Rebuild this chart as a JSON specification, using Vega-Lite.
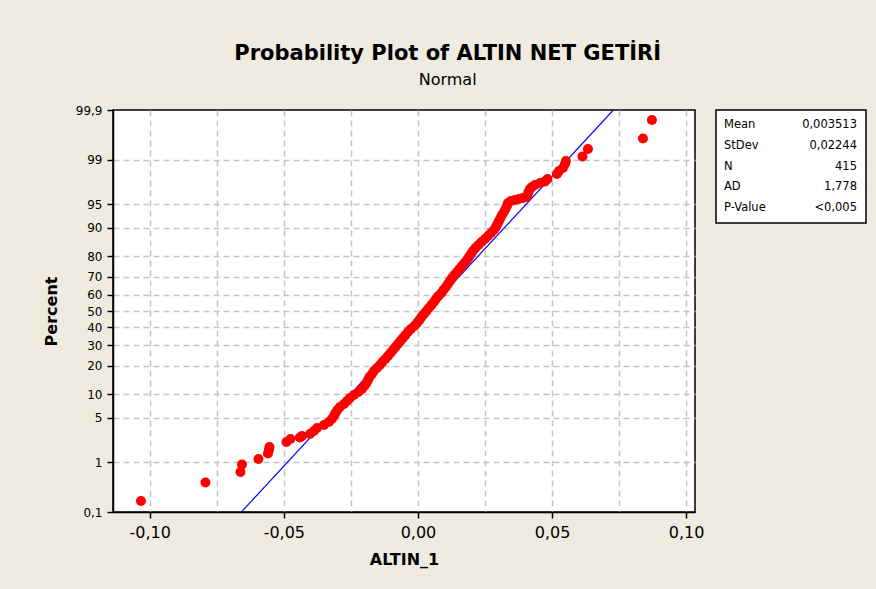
{
  "$schema": "https://vega.github.io/schema/vega-lite/v6.json",
  "background": "#efebe1",
  "padding": {"left": 42, "top": 43, "right": 12, "bottom": 24},
  "title": {
    "text": "Probability Plot of ALTIN NET GETİRİ",
    "subtitle": "Normal",
    "anchor": "middle",
    "dx": -7,
    "font": "DejaVu Sans",
    "fontSize": 21,
    "fontWeight": "bold",
    "color": "black",
    "subtitleFont": "DejaVu Sans",
    "subtitleFontSize": 16,
    "subtitleColor": "black",
    "subtitlePadding": 8,
    "offset": 15
  },
  "spacing": 21,
  "bounds": "flush",
  "config": {
    "locale": {"number": {"decimal": ",", "thousands": ".", "grouping": [3], "currency": ["", ""], "minus": "-"}},
    "view": {"fill": "white", "stroke": "black", "strokeWidth": 1.5},
    "axis": {
      "labelFont": "DejaVu Sans",
      "labelColor": "black",
      "labelOverlap": false,
      "titleFont": "DejaVu Sans",
      "titleColor": "black",
      "titleFontWeight": "bold",
      "titleFontSize": 16,
      "domainColor": "black",
      "domainWidth": 1.5,
      "tickColor": "black",
      "tickWidth": 1.5,
      "gridColor": "#c4c4c4",
      "gridDash": [6, 4],
      "gridWidth": 1.5
    }
  },
  "hconcat": [
    {
      "width": 582,
      "height": 402,
      "layer": [
        {
          "data": {"values": [{"x": -0.065831, "z": -3.0902}, {"x": 0.072857, "z": 3.0902}]},
          "mark": {"type": "line", "color": "#0000ff", "strokeWidth": 1.2, "clip": true},
          "encoding": {
            "x": {
              "field": "x", "type": "quantitative",
              "scale": {"domain": [-0.1137, 0.1033], "nice": false, "zero": false},
              "axis": {
                "title": "ALTIN_1",
                "values": [-0.1, -0.075, -0.05, -0.025, 0, 0.025, 0.05, 0.075, 0.1],
                "tickCount": 20,
                "format": ".2f",
                "labelExpr": "abs(datum.value*20 - round(datum.value*20)) > 0.1 ? '' : datum.label",
                "labelFontSize": 16,
                "labelPadding": 6,
                "tickSize": 6,
                "tickOpacity": {"condition": {"test": "abs(datum.value*20 - round(datum.value*20)) > 0.1", "value": 0}, "value": 1},
                "titlePadding": 11,
                "grid": true
              }
            },
            "y": {
              "field": "z", "type": "quantitative",
              "scale": {"domain": [-3.0902, 3.0902], "nice": false, "zero": false},
              "axis": {
                "title": "Percent",
                "values": [-3.0902, -2.3263, -1.6449, -1.2816, -0.8416, -0.5244, -0.2533, 0, 0.2533, 0.5244, 0.8416, 1.2816, 1.6449, 2.3263, 3.0902],
                "tickCount": 30,
                "labelExpr": "datum.value < -3 ? '0,1' : datum.value < -2 ? '1' : datum.value < -1.5 ? '5' : datum.value < -1 ? '10' : datum.value < -0.7 ? '20' : datum.value < -0.4 ? '30' : datum.value < -0.1 ? '40' : datum.value < 0.1 ? '50' : datum.value < 0.4 ? '60' : datum.value < 0.7 ? '70' : datum.value < 1 ? '80' : datum.value < 1.5 ? '90' : datum.value < 2 ? '95' : datum.value < 3 ? '99' : '99,9'",
                "labelFontSize": 12,
                "labelPadding": 5,
                "tickSize": 6,
                "titlePadding": 16,
                "grid": true,
                "gridOpacity": {"condition": {"test": "abs(datum.value) > 3", "value": 0}, "value": 1}
              }
            }
          }
        },
        {
          "data": {"values": [
            {"x": -0.10328, "z": -2.9213},
            {"x": -0.07923, "z": -2.6368},
            {"x": -0.06618, "z": -2.4754},
            {"x": -0.06562, "z": -2.3601},
            {"x": -0.05947, "z": -2.2755},
            {"x": -0.05593, "z": -2.1909},
            {"x": -0.05556, "z": -2.1371},
            {"x": -0.05537, "z": -2.0910},
            {"x": -0.04903, "z": -2.0141},
            {"x": -0.04754, "z": -1.9680},
            {"x": -0.04400, "z": -1.9449},
            {"x": -0.04325, "z": -1.9219},
            {"x": -0.04027, "z": -1.8911},
            {"x": -0.03878, "z": -1.8450},
            {"x": -0.03766, "z": -1.7989},
            {"x": -0.03505, "z": -1.7528},
            {"x": -0.03318, "z": -1.7066},
            {"x": -0.03207, "z": -1.6605},
            {"x": -0.03132, "z": -1.6144},
            {"x": -0.03076, "z": -1.5683},
            {"x": -0.03002, "z": -1.5221},
            {"x": -0.02908, "z": -1.4760},
            {"x": -0.02759, "z": -1.4299},
            {"x": -0.02647, "z": -1.3838},
            {"x": -0.02535, "z": -1.3376},
            {"x": -0.02386, "z": -1.2915},
            {"x": -0.02219, "z": -1.2454},
            {"x": -0.02088, "z": -1.1993},
            {"x": -0.01995, "z": -1.1531},
            {"x": -0.01920, "z": -1.1070},
            {"x": -0.01864, "z": -1.0609},
            {"x": -0.01808, "z": -1.0148},
            {"x": -0.01715, "z": -0.9686},
            {"x": -0.01641, "z": -0.9225},
            {"x": -0.01529, "z": -0.8764},
            {"x": -0.01417, "z": -0.8303},
            {"x": -0.01324, "z": -0.7841},
            {"x": -0.01212, "z": -0.7380},
            {"x": -0.01119, "z": -0.6919},
            {"x": -0.01025, "z": -0.6458},
            {"x": -0.00932, "z": -0.5996},
            {"x": -0.00839, "z": -0.5535},
            {"x": -0.00746, "z": -0.5074},
            {"x": -0.00653, "z": -0.4613},
            {"x": -0.00559, "z": -0.4151},
            {"x": -0.00466, "z": -0.3690},
            {"x": -0.00373, "z": -0.3229},
            {"x": -0.00261, "z": -0.2768},
            {"x": -0.00131, "z": -0.2306},
            {"x": -0.00037, "z": -0.1845},
            {"x": 0.00056, "z": -0.1384},
            {"x": 0.00131, "z": -0.0923},
            {"x": 0.00224, "z": -0.0461},
            {"x": 0.00317, "z": 0.0},
            {"x": 0.00410, "z": 0.0461},
            {"x": 0.00503, "z": 0.0923},
            {"x": 0.00597, "z": 0.1384},
            {"x": 0.00671, "z": 0.1845},
            {"x": 0.00764, "z": 0.2306},
            {"x": 0.00876, "z": 0.2768},
            {"x": 0.00951, "z": 0.3229},
            {"x": 0.01044, "z": 0.3690},
            {"x": 0.01119, "z": 0.4151},
            {"x": 0.01193, "z": 0.4613},
            {"x": 0.01268, "z": 0.5074},
            {"x": 0.01361, "z": 0.5535},
            {"x": 0.01454, "z": 0.5996},
            {"x": 0.01547, "z": 0.6458},
            {"x": 0.01641, "z": 0.6919},
            {"x": 0.01734, "z": 0.7380},
            {"x": 0.01827, "z": 0.7841},
            {"x": 0.01902, "z": 0.8303},
            {"x": 0.01976, "z": 0.8764},
            {"x": 0.02051, "z": 0.9225},
            {"x": 0.02144, "z": 0.9686},
            {"x": 0.02256, "z": 1.0148},
            {"x": 0.02368, "z": 1.0609},
            {"x": 0.02498, "z": 1.1070},
            {"x": 0.02610, "z": 1.1531},
            {"x": 0.02722, "z": 1.1993},
            {"x": 0.02834, "z": 1.2454},
            {"x": 0.02908, "z": 1.2915},
            {"x": 0.02964, "z": 1.3376},
            {"x": 0.03020, "z": 1.3838},
            {"x": 0.03076, "z": 1.4299},
            {"x": 0.03132, "z": 1.4760},
            {"x": 0.03207, "z": 1.5221},
            {"x": 0.03262, "z": 1.5683},
            {"x": 0.03318, "z": 1.6144},
            {"x": 0.03356, "z": 1.6605},
            {"x": 0.03468, "z": 1.6913},
            {"x": 0.03617, "z": 1.7066},
            {"x": 0.03766, "z": 1.7220},
            {"x": 0.03915, "z": 1.7374},
            {"x": 0.04045, "z": 1.7528},
            {"x": 0.04083, "z": 1.7835},
            {"x": 0.04120, "z": 1.8296},
            {"x": 0.04176, "z": 1.8758},
            {"x": 0.04251, "z": 1.9065},
            {"x": 0.04362, "z": 1.9373},
            {"x": 0.04549, "z": 1.9680},
            {"x": 0.04735, "z": 1.9911},
            {"x": 0.04828, "z": 2.0295},
            {"x": 0.05183, "z": 2.1064},
            {"x": 0.05257, "z": 2.1525},
            {"x": 0.05406, "z": 2.1986},
            {"x": 0.05481, "z": 2.2601},
            {"x": 0.05518, "z": 2.3063},
            {"x": 0.06134, "z": 2.3754},
            {"x": 0.06339, "z": 2.4908},
            {"x": 0.08389, "z": 2.6522},
            {"x": 0.08725, "z": 2.9366}
          ]},
          "mark": {"type": "circle", "color": "#ff0000", "opacity": 1, "size": 100},
          "encoding": {
            "x": {"field": "x", "type": "quantitative"},
            "y": {"field": "z", "type": "quantitative"}
          }
        }
      ]
    },
    {
      "width": 150,
      "height": 113,
      "data": {"values": [
        {"stat": "Mean", "val": "0,003513"},
        {"stat": "StDev", "val": "0,02244"},
        {"stat": "N", "val": "415"},
        {"stat": "AD", "val": "1,778"},
        {"stat": "P-Value", "val": "<0,005"}
      ]},
      "layer": [
        {
          "mark": {"type": "text", "align": "left", "baseline": "middle", "dx": 8, "font": "DejaVu Sans", "fontSize": 11.5, "color": "black"},
          "encoding": {
            "x": {"datum": 0, "type": "quantitative", "scale": {"domain": [0, 1]}, "axis": null},
            "y": {"field": "stat", "type": "nominal", "sort": null, "axis": null, "scale": {"type": "point", "padding": 0.7}},
            "text": {"field": "stat"}
          }
        },
        {
          "mark": {"type": "text", "align": "right", "baseline": "middle", "dx": -9, "font": "DejaVu Sans", "fontSize": 11.5, "color": "black"},
          "encoding": {
            "x": {"datum": 1, "type": "quantitative"},
            "y": {"field": "stat", "type": "nominal", "sort": null},
            "text": {"field": "val"}
          }
        }
      ]
    }
  ]
}
